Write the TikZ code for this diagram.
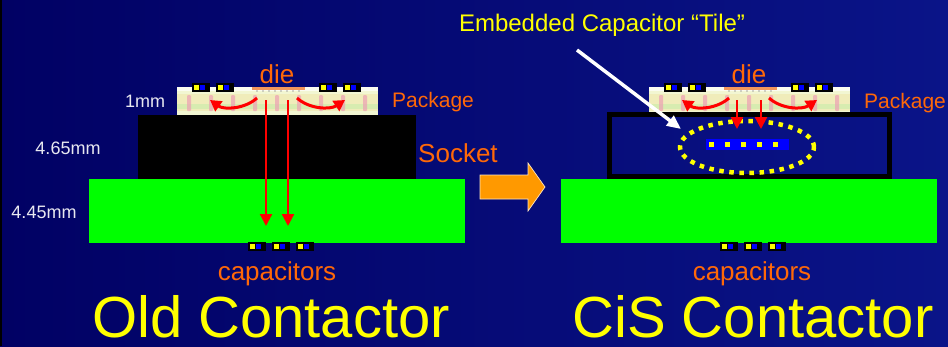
\documentclass[tikz,border=0pt]{standalone}
\usepackage{fontspec}
\setmainfont{Liberation Sans}
\usetikzlibrary{arrows.meta,shapes.geometric}

\definecolor{navyL}{RGB}{1,1,100}
\definecolor{navyR}{RGB}{10,20,136}
\definecolor{lblorange}{RGB}{255,104,8}
\definecolor{boardgreen}{RGB}{0,255,0}
\definecolor{ylw}{RGB}{255,255,0}
\definecolor{padblue}{RGB}{0,0,255}
\definecolor{bigorange}{RGB}{255,153,0}
\definecolor{dimtext}{RGB}{232,232,240}
\definecolor{pkgbase}{RGB}{242,246,210}
\definecolor{pkgband}{RGB}{240,236,186}
\definecolor{pkgpink}{RGB}{236,160,180}
\definecolor{pkggreen}{RGB}{196,236,168}
\definecolor{dieorange}{RGB}{242,150,92}

\tikzset{
  box/.style={rectangle,inner sep=0pt,outer sep=0pt,anchor=north west},
  orangelbl/.style={text=lblorange,font=\fontsize{26}{26}\selectfont,inner sep=0pt},
  pkglbl/.style={text=lblorange,font=\fontsize{21}{21}\selectfont,inner sep=0pt,anchor=base west},
  dimlbl/.style={text=dimtext,font=\fontsize{18}{18}\selectfont,inner sep=0pt,anchor=base},
  titlelbl/.style={text=ylw,font=\fontsize{58}{58}\selectfont,inner sep=0pt,text depth=0pt,anchor=base},
  current/.style={red,line width=2.2pt,-{Triangle[length=12pt,width=12pt]}},
  spread/.style={red,line width=3pt,-{Triangle[length=11pt,width=12pt]}},
  padpair/.pic={
    \fill[black] (0,0) rectangle (18,9);
    \fill[ylw] (2,2) rectangle (7,7);
    \fill[padblue] (8,2) rectangle (13,7);
  },
  package/.pic={
    % laminate body with traces
    \fill[pkgbase] (0,0) rectangle (201,28);
    \fill[white!70!pkgbase] (0,0) rectangle (201,4);
    \fill[pkgband] (0,7) rectangle (201,24);
    \fill[pkggreen,opacity=.55] (0,17) rectangle (201,22);
    \foreach \tx in {12,34,56,78,100,122,144,166,188}
      \fill[pkgpink,opacity=.7,rounded corners=1pt] (\tx-2,8) rectangle (\tx+2,24);
    % die with bumps
    \fill[dieorange] (75,0) rectangle (128,3);
    \foreach \bx in {80,86,...,124}
      \fill[gray!70] (\bx,4) circle (0.8);
  }
}

\begin{document}
\begin{tikzpicture}[x=1pt,y=-1pt]
\useasboundingbox (0,0) rectangle (948,346);
\shade[left color=navyL,right color=navyR] (0,0) rectangle (948,346);
\fill[black] (0,0) rectangle (2,346);

% ---------------- old contactor ----------------
\node[box,fill=boardgreen,minimum width=376pt,minimum height=64pt] (boardL) at (89,179) {};
\node[box,fill=black,minimum width=278pt,minimum height=64pt] (sockL) at (138,115) {};
\pic at (177,87) {package};
\node[box,minimum width=201pt,minimum height=28pt] (pkgL) at (177,87) {};
\foreach \px in {192,216,319,343} \pic at (\px,83) {padpair};
\foreach \px in {248,272,296} \pic at (\px,242) {padpair};

\coordinate (dieL1) at (266,100);
\coordinate (dieL2) at (288,100);
\coordinate (capL1) at (266,226);
\coordinate (capL2) at (288,226);
\coordinate (dieLl) at (257,98);
\coordinate (dieLr) at (297,98);
\coordinate (edgeLl) at (210,100);
\coordinate (edgeLr) at (345,100);
\draw[current] (dieL1) -- (capL1);
\draw[current] (dieL2) -- (capL2);
\draw[spread] (dieLl) .. controls (245,109) and (224,110) .. (edgeLl);
\draw[spread] (dieLr) .. controls (309,109) and (330,110) .. (edgeLr);

\node[orangelbl,anchor=base] (dieLlbl) at (277,83) {die};
\node[pkglbl] (pkgLlbl) at (392,107) {Package};
\node[orangelbl,anchor=base west] (sockLlbl) at (418,162) {Socket};
\node[orangelbl,anchor=base] (capLlbl) at (277,280) {capacitors};
\node[dimlbl] (d1) at (145,107) {1mm};
\node[dimlbl] (d2) at (68,154) {4.65mm};
\node[dimlbl] (d3) at (44,218) {4.45mm};
\node[titlelbl] (oldt) at (271,337) {Old Contactor};

% ---------------- transition arrow ----------------
\fill[bigorange,draw=white!75!bigorange,line width=0.7pt]
  (480,175) -- (528,175) -- (528,163) -- (545,187) -- (528,211) -- (528,199) -- (480,199) -- cycle;

% ---------------- CiS contactor ----------------
\node[box,fill=boardgreen,minimum width=376pt,minimum height=64pt] (boardR) at (561,179) {};
\pic at (649,87) {package};
\node[box,minimum width=201pt,minimum height=25pt] (pkgR) at (649,87) {};
\node[box,draw=black,line width=5pt,minimum width=280pt,minimum height=62pt] (sockR) at (609.5,114.5) {};
\foreach \px in {664,688,791,815} \pic at (\px,83) {padpair};
\foreach \px in {720,744,768} \pic at (\px,242) {padpair};

% embedded tile
\node[ellipse,draw=ylw,line width=4.5pt,dash pattern=on 4.5pt off 5.6pt,
      minimum width=134pt,minimum height=52pt,inner sep=0pt] (tile) at (747,147) {};
\node[fill=padblue,minimum width=83pt,minimum height=11pt,inner sep=0pt] (tileblk) at (747.5,144.5) {};
\foreach \sx in {711,727,743,759,775}
  \fill[ylw] (\sx-2.5,142) rectangle (\sx+2.5,147);

\coordinate (dieR1) at (737,100);
\coordinate (dieR2) at (761,100);
\coordinate (tileR1) at (737,129);
\coordinate (tileR2) at (761,129);
\coordinate (dieRl) at (729,98);
\coordinate (dieRr) at (769,98);
\coordinate (edgeRl) at (682,100);
\coordinate (edgeRr) at (817,100);
\draw[current] (dieR1) -- (tileR1);
\draw[current] (dieR2) -- (tileR2);
\draw[spread] (dieRl) .. controls (717,109) and (696,110) .. (edgeRl);
\draw[spread] (dieRr) .. controls (781,109) and (802,110) .. (edgeRr);

\node[orangelbl,anchor=base] (dieRlbl) at (749,83) {die};
\node[pkglbl] (pkgRlbl) at (864,108) {Package};
\node[orangelbl,anchor=base] (capRlbl) at (752,280) {capacitors};
\node[titlelbl] (cist) at (753,337) {CiS Contactor};

\node[text=ylw,font=\fontsize{24}{24}\selectfont,inner sep=0pt,anchor=base] (tilelbl) at (602,31) {Embedded Capacitor “Tile”};
\coordinate (tilefoot) at (577,50);
\coordinate (tilepoint) at (681,129);
\draw[white,line width=3.5pt,-{Triangle[length=14pt,width=12pt]}] (tilefoot) -- (tilepoint);
\end{tikzpicture}
\end{document}
